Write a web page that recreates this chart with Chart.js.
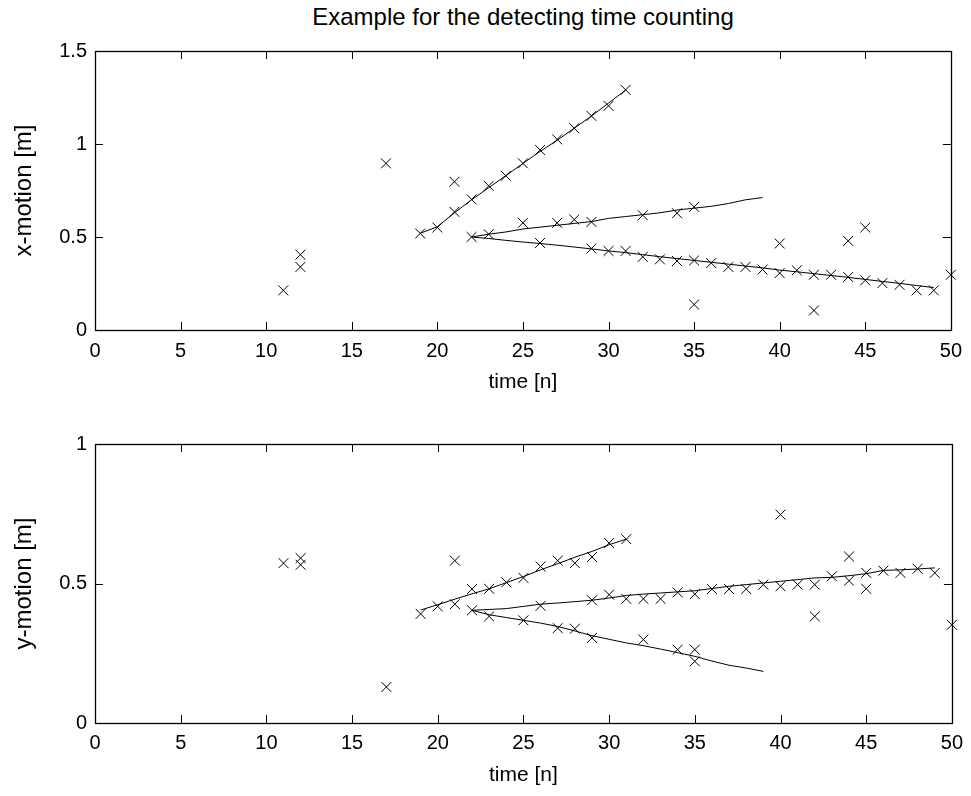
<!DOCTYPE html>
<html>
<head>
<meta charset="utf-8">
<script src="https://cdn.jsdelivr.net/npm/chart.js@4.4.1/dist/chart.umd.min.js"></script>
<style>
  body { margin: 0; background: #fff; }
  #wrap { position: relative; width: 971px; height: 796px; }
  #wrap canvas { position: absolute; left: 0; }
  #title {
    position: absolute; top: 5px; left: 523px;
    font: 24px "Liberation Sans", Arial, sans-serif; line-height: 24px;
    white-space: nowrap; color: #000;
    transform: translateX(-50%);
  }
</style>
</head>
<body>
<div id="wrap">
  <div id="title">Example for the detecting time counting</div>
  <canvas id="xPlot" width="971" height="398" style="top:0"></canvas>
  <canvas id="yPlot" width="971" height="398" style="top:398px"></canvas>
</div>
<script>
// axis ticks
const timeTicks = [0, 5, 10, 15, 20, 25, 30, 35, 40, 45, 50];
const xMotionTicks = [0, 0.5, 1, 1.5];
const yMotionTicks = [0, 0.5, 1];

// --- x-motion: detections (time, value)
const xDetT = [11, 12, 12, 17, 19, 20, 21, 21, 22, 22, 23, 23, 24, 25, 25, 26, 26, 27, 27, 28, 28,
  29, 29, 29, 30, 30, 31, 31, 32, 32, 33, 34, 34, 35, 35, 35, 36, 37, 38, 39, 40, 40, 41, 42, 42,
  43, 44, 44, 45, 45, 46, 47, 48, 49, 50];
const xDetV = [0.213, 0.405, 0.339, 0.896, 0.519, 0.551, 0.635, 0.797, 0.702, 0.500, 0.775, 0.515,
  0.829, 0.896, 0.576, 0.968, 0.468, 1.025, 0.576, 1.085, 0.594, 1.151, 0.581, 0.438, 1.205, 0.425,
  1.291, 0.425, 0.617, 0.393, 0.380, 0.628, 0.371, 0.662, 0.374, 0.137, 0.360, 0.339, 0.339, 0.325,
  0.306, 0.465, 0.321, 0.297, 0.105, 0.297, 0.285, 0.479, 0.267, 0.551, 0.252, 0.243, 0.213, 0.213,
  0.297];

// x-motion: estimated tracks
const xTrack1T = [19, 20, 21, 22, 23, 24, 25, 26, 27, 28, 29, 30, 31];
const xTrack1V = [0.520, 0.555, 0.630, 0.700, 0.765, 0.830, 0.895, 0.960, 1.020, 1.085, 1.150, 1.220, 1.290];
const xTrack2T = [22, 23, 24, 25, 26, 27, 28, 29, 30, 31, 32, 33, 34, 35, 36, 37, 38, 39];
const xTrack2V = [0.500, 0.515, 0.527, 0.543, 0.553, 0.563, 0.573, 0.583, 0.600, 0.610, 0.620, 0.630,
  0.645, 0.655, 0.665, 0.680, 0.700, 0.712];
const xTrack3T = [22, 23, 24, 25, 26, 27, 28, 29, 30, 31, 32, 33, 34, 35, 36, 37, 38, 39, 40, 41, 42,
  43, 44, 45, 46, 47, 48, 49];
const xTrack3V = [0.500, 0.492, 0.482, 0.473, 0.465, 0.456, 0.446, 0.436, 0.425, 0.416, 0.405, 0.394,
  0.384, 0.374, 0.364, 0.354, 0.344, 0.334, 0.322, 0.313, 0.303, 0.293, 0.283, 0.272, 0.261, 0.251,
  0.239, 0.228];

// --- y-motion: detections (time, value)
const yDetT = [11, 12, 12, 17, 19, 20, 21, 21, 22, 22, 23, 23, 24, 25, 25, 26, 26, 27, 27, 28, 28,
  29, 29, 29, 30, 30, 31, 31, 32, 32, 33, 34, 34, 35, 35, 35, 36, 37, 38, 39, 40, 40, 41, 42, 42,
  43, 44, 44, 45, 45, 46, 47, 48, 49, 50];
const yDetV = [0.573, 0.591, 0.567, 0.129, 0.391, 0.418, 0.426, 0.582, 0.480, 0.404, 0.481, 0.382,
  0.504, 0.520, 0.368, 0.561, 0.420, 0.582, 0.340, 0.573, 0.338, 0.595, 0.440, 0.305, 0.645, 0.460,
  0.659, 0.445, 0.445, 0.299, 0.445, 0.468, 0.263, 0.462, 0.263, 0.221, 0.480, 0.480, 0.480, 0.496,
  0.490, 0.747, 0.496, 0.496, 0.382, 0.526, 0.510, 0.597, 0.538, 0.481, 0.546, 0.538, 0.553, 0.538,
  0.352];

// y-motion: estimated tracks
const yTrack1T = [19, 20, 21, 22, 23, 24, 25, 26, 27, 28, 29, 30, 31];
const yTrack1V = [0.405, 0.424, 0.444, 0.463, 0.481, 0.503, 0.525, 0.549, 0.571, 0.594, 0.615, 0.639, 0.659];
const yTrack2T = [22, 23, 24, 25, 26, 27, 28, 29, 30, 31, 32, 33, 34, 35, 36, 37, 38, 39, 40, 41, 42,
  43, 44, 45, 46, 47, 48, 49];
const yTrack2V = [0.404, 0.407, 0.410, 0.418, 0.426, 0.430, 0.435, 0.440, 0.448, 0.457, 0.462, 0.466,
  0.470, 0.474, 0.482, 0.490, 0.496, 0.502, 0.508, 0.514, 0.520, 0.522, 0.528, 0.535, 0.547, 0.549,
  0.552, 0.556];
const yTrack3T = [22, 23, 24, 25, 26, 27, 28, 29, 30, 31, 32, 33, 34, 35, 36, 37, 38, 39];
const yTrack3V = [0.404, 0.388, 0.378, 0.368, 0.358, 0.346, 0.330, 0.313, 0.300, 0.287, 0.277, 0.265,
  0.252, 0.239, 0.222, 0.207, 0.197, 0.185];

const FONT = '"Liberation Sans", Arial, sans-serif';
const pts = (ts, vs) => ts.map((t, i) => ({ x: t, y: vs[i] }));

// box around the plot area plus inward tick marks on all four sides
const frameTicks = {
  id: 'frameTicks',
  afterDatasetsDraw(chart) {
    const { ctx, chartArea: a, scales: { x, y } } = chart;
    const len = 8;
    ctx.save();
    ctx.strokeStyle = '#000';
    ctx.lineWidth = 1;
    ctx.beginPath();
    x.ticks.forEach(t => {
      const px = Math.round(x.getPixelForValue(t.value)) + 0.5;
      ctx.moveTo(px, a.bottom); ctx.lineTo(px, a.bottom - len);
      ctx.moveTo(px, a.top); ctx.lineTo(px, a.top + len);
    });
    y.ticks.forEach(t => {
      const py = Math.round(y.getPixelForValue(t.value)) + 0.5;
      ctx.moveTo(a.left, py); ctx.lineTo(a.left + len, py);
      ctx.moveTo(a.right, py); ctx.lineTo(a.right - len, py);
    });
    ctx.stroke();
    ctx.lineWidth = 1.3;
    ctx.strokeRect(Math.round(a.left) + 0.5, Math.round(a.top) + 0.5,
      Math.round(a.width), Math.round(a.height));
    ctx.restore();
  }
};

function trackSet(ts, vs) {
  return {
    data: pts(ts, vs), showLine: true, pointRadius: 0,
    borderColor: '#000', borderWidth: 1, clip: false
  };
}

function makePanel(id, o) {
  return new Chart(document.getElementById(id), {
    type: 'scatter',
    data: {
      datasets: [
        {
          data: pts(o.detT, o.detV), pointStyle: 'crossRot', pointRadius: 7,
          borderColor: '#000', backgroundColor: '#000', pointBorderWidth: 1, clip: false
        },
        ...o.tracks.map(tr => trackSet(tr[0], tr[1]))
      ]
    },
    options: {
      responsive: false,
      animation: false,
      events: [],
      layout: { padding: { left: 0, right: 19, top: o.top, bottom: 0 } },
      plugins: { legend: { display: false }, tooltip: { enabled: false } },
      scales: {
        x: {
          type: 'linear', min: 0, max: 50,
          afterBuildTicks: s => { s.ticks = timeTicks.map(v => ({ value: v })); },
          afterFit: s => { s.height = o.xHeight; },
          grid: { display: false, drawTicks: false },
          border: { display: false },
          ticks: { color: '#000', padding: o.tickPad, font: { family: FONT, size: 20 } },
          title: {
            display: true, text: 'time [n]', color: '#000',
            font: { family: FONT, size: 21 }, padding: { top: 0, bottom: o.xTitlePad }
          }
        },
        y: {
          type: 'linear', min: 0, max: o.yMax,
          afterBuildTicks: s => { s.ticks = o.yTicks.map(v => ({ value: v })); },
          afterFit: s => { s.width = 95; },
          grid: { display: false, drawTicks: false },
          border: { display: false },
          ticks: {
            color: '#000', padding: 8, font: { family: FONT, size: 20 },
            callback: v => String(v)
          },
          title: {
            display: true, text: o.yLabel, color: '#000',
            font: { family: FONT, size: 24 }, padding: { top: 10, bottom: 0 }
          }
        }
      }
    },
    plugins: [frameTicks]
  });
}

makePanel('xPlot', {
  detT: xDetT, detV: xDetV,
  tracks: [[xTrack1T, xTrack1V], [xTrack2T, xTrack2V], [xTrack3T, xTrack3V]],
  yMax: 1.5, yTicks: xMotionTicks, yLabel: 'x-motion [m]',
  top: 51, xHeight: 68, tickPad: 9, xTitlePad: 3
});

makePanel('yPlot', {
  detT: yDetT, detV: yDetV,
  tracks: [[yTrack1T, yTrack1V], [yTrack2T, yTrack2V], [yTrack3T, yTrack3V]],
  yMax: 1, yTicks: yMotionTicks, yLabel: 'y-motion [m]',
  top: 46, xHeight: 73, tickPad: 8, xTitlePad: 8
});
</script>
</body>
</html>
